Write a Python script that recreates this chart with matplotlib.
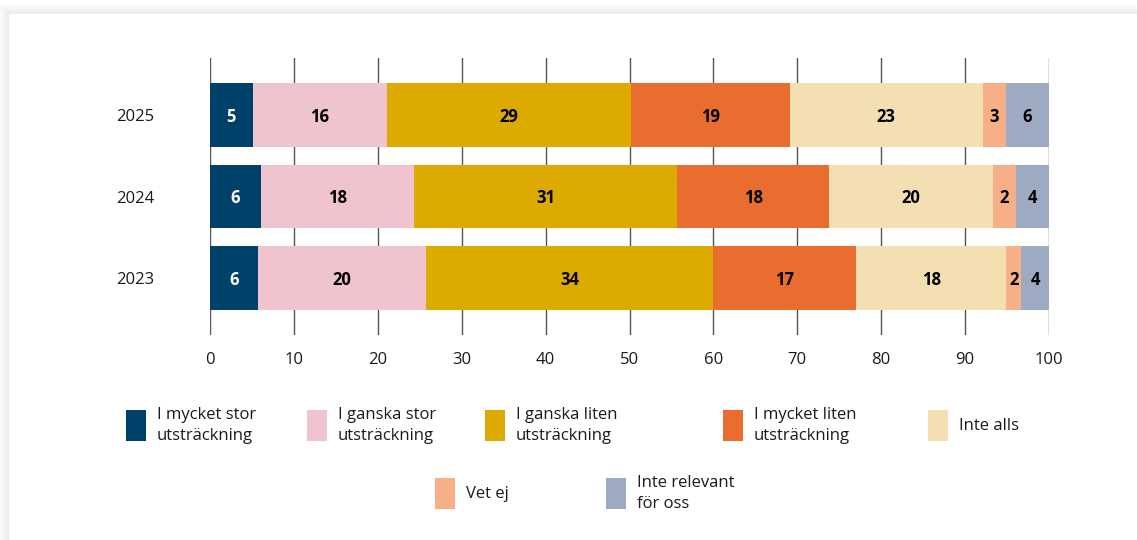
import matplotlib
matplotlib.use("Agg")
import matplotlib.pyplot as plt
from matplotlib.patches import Rectangle
import numpy as np

plt.rcParams["font.family"] = ["Open Sans", "DejaVu Sans"]

years = ["2023", "2024", "2025"]
categories = [
    "I mycket stor\nutsträckning",
    "I ganska stor\nutsträckning",
    "I ganska liten\nutsträckning",
    "I mycket liten\nutsträckning",
    "Inte alls",
    "Vet ej",
    "Inte relevant\nför oss",
]
colors = ["#00416A", "#EFC4CF", "#DDAA00", "#E86D2E", "#F3DFB1", "#F7AF88", "#9DABC2"]

# segment widths per year
widths = {
    "2023": [5.7, 20.1, 34.2, 17.0, 17.9, 1.8, 3.3],
    "2024": [6.1, 18.2, 31.4, 18.1, 19.5, 2.8, 3.9],
    "2025": [5.1, 16.0, 29.1, 18.9, 23.0, 2.8, 5.1],
}
# printed labels
labels = {
    "2023": [6, 20, 34, 17, 18, 2, 4],
    "2024": [6, 18, 31, 18, 20, 2, 4],
    "2025": [5, 16, 29, 19, 23, 3, 6],
}

W, H = 1137, 540
fig = plt.figure(figsize=(W / 100, H / 100), dpi=100)
fig.patch.set_facecolor("white")


def fx(x):
    return x / W


def fy(y):
    return 1 - y / H


# card with soft shadow
for i in range(10, 0, -1):
    fig.patches.append(Rectangle((fx(9 - i), 0), 1, fy(14 - i), transform=fig.transFigure,
                                 facecolor="#000000", alpha=0.006, edgecolor="none", zorder=-3))
fig.patches.append(Rectangle((fx(9), 0), 1, fy(14), transform=fig.transFigure,
                             facecolor="white", edgecolor="none", zorder=-2))

ax = fig.add_axes([fx(210), fy(335), fx(1049) - fx(210), fy(58) - fy(335)])
ax.set_facecolor("none")
ax.set_zorder(2)

ypos = np.arange(len(years))
for yi, year in zip(ypos, years):
    left = 0
    for k, (w, lab) in enumerate(zip(widths[year], labels[year])):
        ax.barh(yi, w, left=left, height=0.78, color=colors[k], edgecolor="none", zorder=2)
        ax.text(left + w / 2, yi - 0.02, str(lab), ha="center", va="center", fontsize=12,
                fontweight="bold", color="white" if k == 0 else "black", zorder=3)
        left += w

ax.set_xlim(0, 100)
ax.set_ylim(-0.7, 2.7)
ax.set_xticks(np.arange(0, 101, 10))
ax.set_yticks(ypos)
ax.set_yticklabels(years)
ax.tick_params(axis="x", length=0, pad=12, labelsize=12, colors="#1a1a1a")
ax.tick_params(axis="y", length=0, pad=40, labelsize=12, colors="#1a1a1a")
ax.xaxis.grid(True, color="#555555", linewidth=1, zorder=1)
ax.set_axisbelow(True)
for s in ax.spines.values():
    s.set_visible(False)

# legend
leg_pos = [(126, 410), (307, 410), (485, 410), (723, 410), (928, 410), (435, 478), (606, 478)]
for (px, py), lab, c in zip(leg_pos, categories, colors):
    fig.patches.append(Rectangle((fx(px), fy(py + 31)), 20 / W, 31 / H, transform=fig.transFigure,
                                 facecolor=c, edgecolor="none", zorder=3))
    fig.text(fx(px + 31), fy(py + 15.5), lab, ha="left", va="center", fontsize=12,
             color="#1a1a1a", linespacing=1.35)

fig.savefig("out.png", dpi=100)
